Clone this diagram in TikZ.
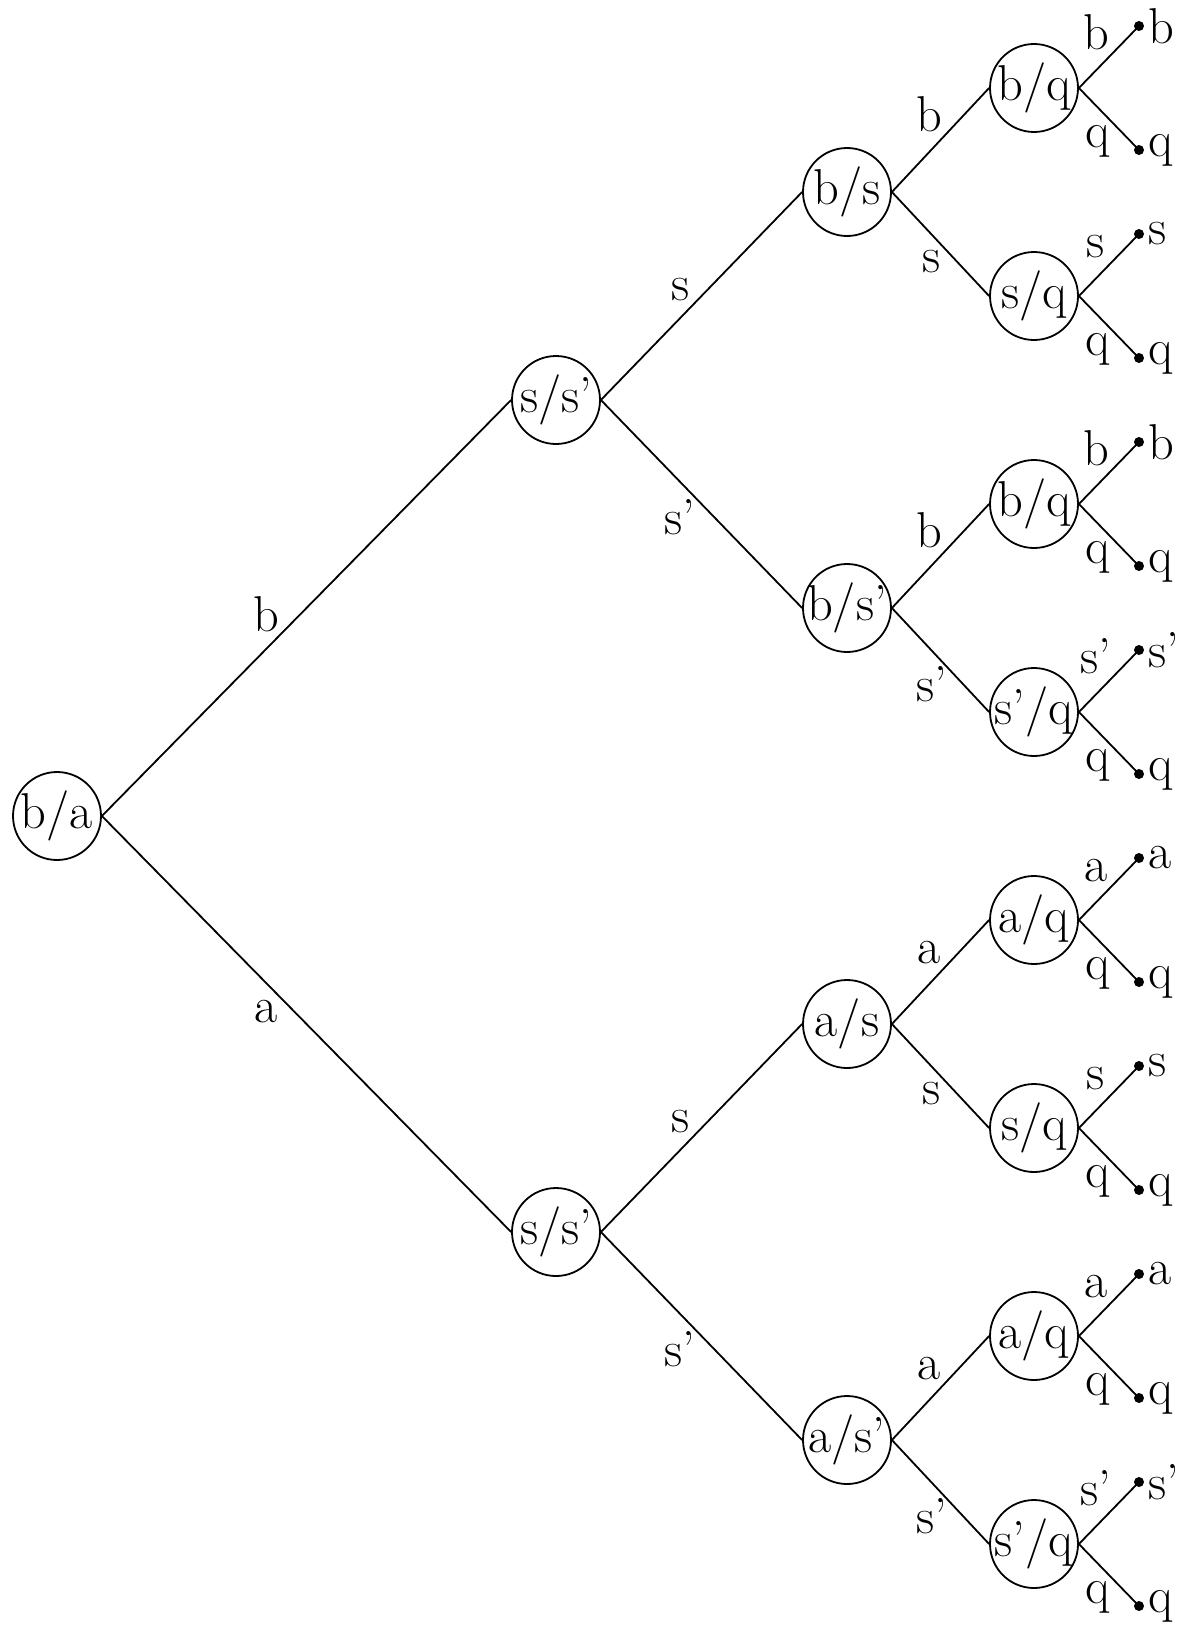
\documentclass[tikz,border=0pt]{standalone}
\usepackage{fontspec}
\newcommand\fs{\fontsize{25.2pt}{30pt}\selectfont}
\newcommand\tx[1]{\makebox[0pt]{#1}}
\tikzset{
  st/.style={circle, draw, line width=0.9pt, minimum size=44pt, inner sep=0pt, font=\fs},
  lf/.style={circle, fill, minimum size=5pt, inner sep=0pt,
     label={[font=\fs, inner sep=0pt, label distance=2pt]0:#1}},
  eu/.style={anchor=south, inner sep=0pt, font=\fs},
  ed/.style={anchor=north, inner sep=0pt, font=\fs},
  eu0/.style={eu, shift={(-40,25)}},
  ed0/.style={ed, shift={(-40,-24.7)}},
  eu1/.style={eu, shift={(-20.5,6)}},
  ed1/.style={ed, shift={(-21.5,-5)}},
  eu2/.style={eu, shift={(-11,-7.5)}},
  ed2/.style={ed, shift={(-9,5.5)}},
  eu3/.style={eu, shift={(-13,-6)}},
  ed3/.style={ed, shift={(-11,6)}},
  ln/.style={line width=0.9pt},
}
\begin{document}
\begin{tikzpicture}[x=0.5pt, y=-0.5pt]
\useasboundingbox (0,0) rectangle (1184,1632);
% nodes
\node[st] (r) at (57,816) {\tx{b/a}};
\node[st] (n1) at (556,400) {\tx{s/s'}};
\node[st] (n2) at (556,1232) {\tx{s/s'}};
\node[st] (n11) at (847,192) {\tx{b/s}};
\node[st] (n12) at (847,608) {\tx{b/s'}};
\node[st] (n21) at (847,1024) {\tx{a/s}};
\node[st] (n22) at (847,1440) {\tx{a/s'}};
\node[st] (n111) at (1034,88) {\tx{b/q}};
\node[st] (n112) at (1034,296) {\tx{s/q}};
\node[st] (n121) at (1034,504) {\tx{b/q}};
\node[st] (n122) at (1034,712) {\tx{s'/q}};
\node[st] (n211) at (1034,920) {\tx{a/q}};
\node[st] (n212) at (1034,1128) {\tx{s/q}};
\node[st] (n221) at (1034,1336) {\tx{a/q}};
\node[st] (n222) at (1034,1544) {\tx{s'/q}};
% leaves
\node[lf=b] (l1111) at (1139,26) {};
\node[lf=q] (l1112) at (1139,150) {};
\node[lf=s] (l1121) at (1139,234) {};
\node[lf=q] (l1122) at (1139,358) {};
\node[lf=b] (l1211) at (1139,442) {};
\node[lf=q] (l1212) at (1139,566) {};
\node[lf=s'] (l1221) at (1139,650) {};
\node[lf=q] (l1222) at (1139,774) {};
\node[lf=a] (l2111) at (1139,858) {};
\node[lf=q] (l2112) at (1139,982) {};
\node[lf=s] (l2121) at (1139,1066) {};
\node[lf=q] (l2122) at (1139,1190) {};
\node[lf=a] (l2211) at (1139,1274) {};
\node[lf=q] (l2212) at (1139,1398) {};
\node[lf=s'] (l2221) at (1139,1482) {};
\node[lf=q] (l2222) at (1139,1606) {};
% edges level 0
\draw[ln] (r.east) -- node[eu0] {b} (n1.west);
\draw[ln] (r.east) -- node[ed0] {a} (n2.west);
% level 1
\draw[ln] (n1.east) -- node[eu1] {s} (n11.west);
\draw[ln] (n1.east) -- node[ed1] {s'} (n12.west);
\draw[ln] (n2.east) -- node[eu1] {s} (n21.west);
\draw[ln] (n2.east) -- node[ed1] {s'} (n22.west);
% level 2
\draw[ln] (n11.east) -- node[eu2] {b} (n111.west);
\draw[ln] (n11.east) -- node[ed2] {s} (n112.west);
\draw[ln] (n12.east) -- node[eu2] {b} (n121.west);
\draw[ln] (n12.east) -- node[ed2] {s'} (n122.west);
\draw[ln] (n21.east) -- node[eu2] {a} (n211.west);
\draw[ln] (n21.east) -- node[ed2] {s} (n212.west);
\draw[ln] (n22.east) -- node[eu2] {a} (n221.west);
\draw[ln] (n22.east) -- node[ed2] {s'} (n222.west);
% level 3
\draw[ln] (n111.east) -- node[eu3] {b} (l1111.center);
\draw[ln] (n111.east) -- node[ed3] {q} (l1112.center);
\draw[ln] (n112.east) -- node[eu3] {s} (l1121.center);
\draw[ln] (n112.east) -- node[ed3] {q} (l1122.center);
\draw[ln] (n121.east) -- node[eu3] {b} (l1211.center);
\draw[ln] (n121.east) -- node[ed3] {q} (l1212.center);
\draw[ln] (n122.east) -- node[eu3] {s'} (l1221.center);
\draw[ln] (n122.east) -- node[ed3] {q} (l1222.center);
\draw[ln] (n211.east) -- node[eu3] {a} (l2111.center);
\draw[ln] (n211.east) -- node[ed3] {q} (l2112.center);
\draw[ln] (n212.east) -- node[eu3] {s} (l2121.center);
\draw[ln] (n212.east) -- node[ed3] {q} (l2122.center);
\draw[ln] (n221.east) -- node[eu3] {a} (l2211.center);
\draw[ln] (n221.east) -- node[ed3] {q} (l2212.center);
\draw[ln] (n222.east) -- node[eu3] {s'} (l2221.center);
\draw[ln] (n222.east) -- node[ed3] {q} (l2222.center);
\end{tikzpicture}
\end{document}
